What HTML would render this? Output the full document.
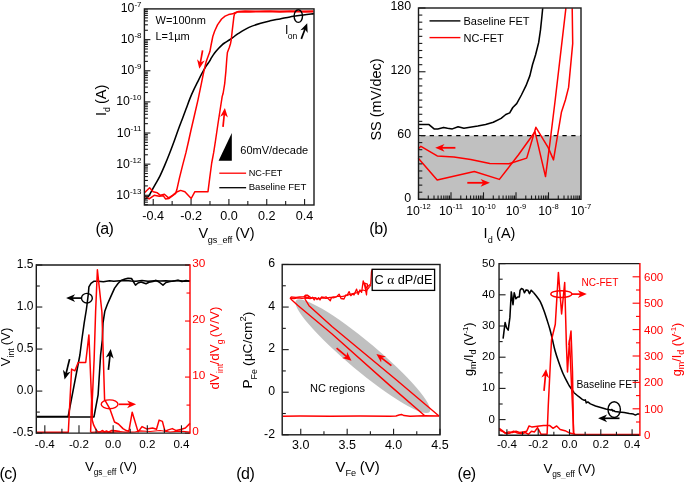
<!DOCTYPE html>
<html><head><meta charset="utf-8"><style>
html,body{margin:0;padding:0;background:#fff;overflow:hidden;width:685px;height:482px;}
svg{display:block;will-change:transform;}
text{font-family:"Liberation Sans",sans-serif;}
</style></head><body>
<svg width="685" height="482" viewBox="0 0 685 482">
<defs><clipPath id="clipa"><rect x="144.4" y="8.9" width="169.6" height="196.1"/></clipPath></defs>
<rect width="685" height="482" fill="#fff"/>
<text x="141.5" y="198.88" font-size="12.3" text-anchor="end" fill="#000" >10<tspan font-size="8" dy="-5.2">-13</tspan></text>
<text x="141.5" y="167.75" font-size="12.3" text-anchor="end" fill="#000" >10<tspan font-size="8" dy="-5.2">-12</tspan></text>
<text x="141.5" y="136.62" font-size="12.3" text-anchor="end" fill="#000" >10<tspan font-size="8" dy="-5.2">-11</tspan></text>
<text x="141.5" y="105.49" font-size="12.3" text-anchor="end" fill="#000" >10<tspan font-size="8" dy="-5.2">-10</tspan></text>
<text x="141.5" y="74.36" font-size="12.3" text-anchor="end" fill="#000" >10<tspan font-size="8" dy="-5.2">-9</tspan></text>
<text x="141.5" y="43.23" font-size="12.3" text-anchor="end" fill="#000" >10<tspan font-size="8" dy="-5.2">-8</tspan></text>
<text x="141.5" y="12.1" font-size="12.3" text-anchor="end" fill="#000" >10<tspan font-size="8" dy="-5.2">-7</tspan></text>
<text x="153.22" y="219.9" font-size="12.6" text-anchor="middle" fill="#000" >-0.4</text>
<text x="191.06" y="219.9" font-size="12.6" text-anchor="middle" fill="#000" >-0.2</text>
<text x="228.9" y="219.9" font-size="12.6" text-anchor="middle" fill="#000" >0.0</text>
<text x="266.74" y="219.9" font-size="12.6" text-anchor="middle" fill="#000" >0.2</text>
<text x="304.58" y="219.9" font-size="12.6" text-anchor="middle" fill="#000" >0.4</text>
<text x="95.4" y="233.6" font-size="16" text-anchor="start" fill="#000" letter-spacing="-0.5">(a)</text>
<text x="198.4" y="238.1" font-size="14.5" text-anchor="start" fill="#000" >V<tspan font-size="9.1" dy="4.5" dx="-0.3">gs<tspan fill="#aaa">_</tspan>eff</tspan><tspan dy="-4.5" dx="-1.2"> (V)</tspan></text>
<text transform="translate(106,116) rotate(-90)" font-size="14.5">I<tspan font-size="8.8" dy="4.2">d</tspan><tspan dy="-4.2" dx="-1"> (A)</tspan></text>
<text x="155.5" y="23.8" font-size="11" text-anchor="start" fill="#000" >W=100nm</text>
<text x="155.5" y="39.6" font-size="11" text-anchor="start" fill="#000" >L=1&#181;m</text>
<path d="M231.8,133.1 L231.8,160.8 L218.6,160.8 Z" fill="#000"/>
<text x="240.3" y="154.2" font-size="11" text-anchor="start" fill="#000" >60mV/decade</text>
<line x1="219.3" y1="173.2" x2="246.1" y2="173.2" stroke="#ff0000" stroke-width="1.3" />
<text x="248.7" y="175.7" font-size="9.2" text-anchor="start" fill="#000" >NC-FET</text>
<line x1="219.3" y1="187.7" x2="246.1" y2="187.7" stroke="#000" stroke-width="1.3" />
<text x="248.7" y="190.2" font-size="9.6" text-anchor="start" fill="#000" >Baseline FET</text>
<g clip-path="url(#clipa)">
<path d="M145.2,199.3 C145.78,198.75 147.8,197.07 148.7,196 C149.6,194.93 149.55,194.77 150.6,192.9 C151.65,191.03 153.45,187.6 155,184.8 C156.55,182 158.25,179.42 159.9,176.1 C161.55,172.78 163.23,168.83 164.9,164.9 C166.57,160.97 168.28,156.65 169.9,152.5 C171.52,148.35 173.17,143.92 174.6,140 C176.03,136.08 177.18,132.58 178.5,129 C179.82,125.42 181.22,121.9 182.5,118.5 C183.78,115.1 184.97,111.92 186.2,108.6 C187.43,105.28 188.65,101.72 189.9,98.6 C191.15,95.48 192.45,92.6 193.7,89.9 C194.95,87.2 196.05,85.1 197.4,82.4 C198.75,79.7 200.35,76.4 201.8,73.7 C203.25,71 204.8,68.3 206.1,66.2 C207.4,64.1 208.75,62.43 209.6,61.1 C210.45,59.77 210.58,59.23 211.2,58.2 C211.82,57.17 212.53,56.02 213.3,54.9 C214.07,53.78 214.9,52.62 215.8,51.5 C216.7,50.38 217.73,49.23 218.7,48.2 C219.67,47.17 220.63,46.17 221.6,45.3 C222.57,44.43 223.22,43.88 224.5,43 C225.78,42.12 227.88,40.93 229.3,40 C230.72,39.07 231.47,38.5 233,37.4 C234.53,36.3 235.83,35.07 238.5,33.4 C241.17,31.73 245.3,29.1 249,27.4 C252.7,25.7 257.18,24.3 260.7,23.2 C264.22,22.1 266.88,21.52 270.1,20.8 C273.32,20.08 276.68,19.55 280,18.9 C283.32,18.25 286.85,17.48 290,16.9 C293.15,16.32 294.9,15.95 298.9,15.4 C302.9,14.85 311.48,13.9 314,13.6" fill="none" stroke="#000" stroke-width="1.55" stroke-linejoin="round" />
<polyline points="313.5,11 300,11.3 290,10.9 280,11.2 270,10.9 260,11.3 245,11.1 238.5,11.4 235,12.6 232.7,13.8 228.6,14.6 225.1,16.1 221.6,19 217.5,24.9 214.6,31.3 212.8,36.5 211.1,45 209.9,51.6 207.4,58.2 206.1,62 203.6,72.5 201.1,84.9 198,99.8 194.4,115.5 190.9,130.5 188.6,141 186,152.4 182.4,166.1 179.3,178.6 176.8,189.8 176.2,191.7 175.7,193.3 169,198.4 165.5,198.9 163.4,195.8 159.3,196.3 154.2,195.3 149.1,198.9 144,195.3" fill="none" stroke="#ff0000" stroke-width="1.5" stroke-linejoin="round" />
<polyline points="144,193.3 149.6,187.7 153.2,191.8 157.3,192.8 160.4,195.3 164.4,194.3 168.5,197.9 172.6,195.3 176.2,192.3 180.6,190.4 184.9,191.7 191.2,198.5 194.9,191.7 208,191.7 209.8,177.3 211.7,163 213.7,152.4 215.6,140 217.8,125 220.1,110 222.2,96.4 223.1,93.5 224.7,83.6 225.9,71.1 226.8,58.7 227.4,52.5 229.3,47.5 230.5,43.7 231.2,40 232.1,31.9 233.9,16.7 234.5,13.8 237.4,11.8 250,11.9 265,11.6 280,12 295,11.6 305,12 313.5,11.7" fill="none" stroke="#ff0000" stroke-width="1.5" stroke-linejoin="round" />
</g>
<line x1="202.6" y1="50.3" x2="200.34" y2="62.89" stroke="#ff0000" stroke-width="1.7" />
<path d="M199.3,68.7 L197.05,59.15 L200.43,62.4 L204.73,60.53 Z" fill="#ff0000"/>
<line x1="223" y1="126.8" x2="224.3" y2="113.97" stroke="#ff0000" stroke-width="1.7" />
<path d="M224.9,108.1 L227.87,117.45 L224.25,114.47 L220.11,116.66 Z" fill="#ff0000"/>
<ellipse cx="298.3" cy="16.1" rx="4.2" ry="6.3" fill="none" stroke="#000" stroke-width="1.4"/>
<text x="284.9" y="34.2" font-size="12.3" text-anchor="start" fill="#000" >I<tspan font-size="8.6" dy="4.6" dx="-0.6">on</tspan></text>
<line x1="301.3" y1="38.9" x2="305.12" y2="28.72" stroke="#000" stroke-width="1.7" />
<path d="M307.2,23.2 L307.68,33 L304.95,29.19 L300.38,30.25 Z" fill="#000"/>
<rect x="418.5" y="135.7" width="162.5" height="63.6" fill="#c0c0c0"/>
<line x1="418.5" y1="135.7" x2="581" y2="135.7" stroke="#000" stroke-width="1.3" stroke-dasharray="4.3,4.55" stroke-dashoffset="6.55"/>
<text x="411.1" y="201.5" font-size="12.4" text-anchor="end" fill="#000" >0</text>
<text x="411.1" y="137.73" font-size="12.4" text-anchor="end" fill="#000" >60</text>
<text x="411.1" y="73.96" font-size="12.4" text-anchor="end" fill="#000" >120</text>
<text x="411.1" y="10.1" font-size="12.4" text-anchor="end" fill="#000" >180</text>
<text x="418.5" y="215.4" font-size="12.3" text-anchor="middle" fill="#000" >10<tspan font-size="7.6" dy="-6.2">-12</tspan></text>
<text x="451" y="215.4" font-size="12.3" text-anchor="middle" fill="#000" >10<tspan font-size="7.6" dy="-6.2">-11</tspan></text>
<text x="483.5" y="215.4" font-size="12.3" text-anchor="middle" fill="#000" >10<tspan font-size="7.6" dy="-6.2">-10</tspan></text>
<text x="516" y="215.4" font-size="12.3" text-anchor="middle" fill="#000" >10<tspan font-size="7.6" dy="-6.2">-9</tspan></text>
<text x="548.5" y="215.4" font-size="12.3" text-anchor="middle" fill="#000" >10<tspan font-size="7.6" dy="-6.2">-8</tspan></text>
<text x="581" y="215.4" font-size="12.3" text-anchor="middle" fill="#000" >10<tspan font-size="7.6" dy="-6.2">-7</tspan></text>
<text x="369.3" y="233.5" font-size="16" text-anchor="start" fill="#000" letter-spacing="-0.5">(b)</text>
<text x="483.6" y="238" font-size="14.5" text-anchor="start" fill="#000" >I<tspan font-size="9.1" dy="4.5">d</tspan><tspan dy="-4.5" dx="-0.6"> (A)</tspan></text>
<text transform="translate(381,140.6) rotate(-90)" font-size="14.5">SS (mV/dec)</text>
<line x1="429.5" y1="20.9" x2="460.4" y2="20.9" stroke="#000" stroke-width="1.4" />
<text x="463.5" y="25" font-size="11" text-anchor="start" fill="#000" >Baseline FET</text>
<line x1="429.5" y1="37.6" x2="460.4" y2="37.6" stroke="#ff0000" stroke-width="1.4" />
<text x="463.5" y="41.7" font-size="11" text-anchor="start" fill="#000" >NC-FET</text>
<polyline points="418.3,124.4 421.8,124.5 429,124.6 434.1,128.9 437.8,128.9 443.6,127.4 447.5,128.2 452.3,128.9 458.1,126.7 463.9,128.2 470,127.2 477.8,126.1 485.6,124.6 493.3,122.3 501.1,118.4 505.8,114.5 509.7,112.9 512.8,107.5 516.7,103.6 521.4,95 526,85.7 529.9,75.6 532.5,64.8 535.6,54.8 538.7,42.4 540.5,29.9 541.8,17.5 542.7,8.2" fill="none" stroke="#000" stroke-width="1.55" stroke-linejoin="round" />
<polyline points="418.3,148.7 420.9,146.3 437.2,155.9 453.9,157.1 470.7,159.5 489.8,163.6 509,163.8 526.7,158.1 535.9,127.3 548.2,147.6 553.5,159.9 561.4,112.3 565.4,100 568.6,87.4 572.7,43.6 572.2,8.2" fill="none" stroke="#ff0000" stroke-width="1.5" stroke-linejoin="round" />
<polyline points="418.3,158.3 437.2,179.9 474.3,171.5 499.4,179.4 518.5,154.7 535,131.7 545.5,176.6 550,142.3 555.2,100 565.9,8.2" fill="none" stroke="#ff0000" stroke-width="1.5" stroke-linejoin="round" />
<line x1="455.4" y1="147.8" x2="441.4" y2="147.8" stroke="#ff0000" stroke-width="1.8" />
<path d="M435.2,147.8 L444.5,143.9 L441.9,147.8 L444.5,151.7 Z" fill="#ff0000"/>
<line x1="467.3" y1="182.8" x2="483.7" y2="182.8" stroke="#ff0000" stroke-width="1.8" />
<path d="M489.9,182.8 L480.6,186.7 L483.2,182.8 L480.6,178.9 Z" fill="#ff0000"/>
<text x="33.4" y="435.8" font-size="12" text-anchor="end" fill="#000" >-0.5</text>
<text x="33.4" y="393.78" font-size="12" text-anchor="end" fill="#000" >0.0</text>
<text x="33.4" y="351.75" font-size="12" text-anchor="end" fill="#000" >0.5</text>
<text x="33.4" y="309.73" font-size="12" text-anchor="end" fill="#000" >1.0</text>
<text x="33.4" y="267.7" font-size="12" text-anchor="end" fill="#000" >1.5</text>
<text x="192.2" y="435.3" font-size="11.8" text-anchor="start" fill="#ff0000" >0</text>
<text x="192.2" y="379.27" font-size="11.8" text-anchor="start" fill="#ff0000" >10</text>
<text x="192.2" y="323.24" font-size="11.8" text-anchor="start" fill="#ff0000" >20</text>
<text x="192.2" y="267.21" font-size="11.8" text-anchor="start" fill="#ff0000" >30</text>
<text x="44.83" y="448" font-size="11.6" text-anchor="middle" fill="#000" >-0.4</text>
<text x="78.99" y="448" font-size="11.6" text-anchor="middle" fill="#000" >-0.2</text>
<text x="113.15" y="448" font-size="11.6" text-anchor="middle" fill="#000" >0.0</text>
<text x="147.31" y="448" font-size="11.6" text-anchor="middle" fill="#000" >0.2</text>
<text x="181.47" y="448" font-size="11.6" text-anchor="middle" fill="#000" >0.4</text>
<text x="-0.5" y="479" font-size="16" text-anchor="start" fill="#000" letter-spacing="-0.5">(c)</text>
<text x="85.1" y="471.1" font-size="13.3" text-anchor="start" fill="#000" >V<tspan font-size="8.4" dy="4" dx="-0.3">gs<tspan fill="#aaa">_</tspan>eff</tspan><tspan dy="-4" dx="-0.8"> (V)</tspan></text>
<text transform="translate(10,366.2) rotate(-90)" font-size="13.2">V<tspan font-size="8.6" dy="3.8">int</tspan><tspan dy="-3.8" dx="-0.6"> (V)</tspan></text>
<text transform="translate(219.4,389.6) rotate(-90)" font-size="13.4" fill="#ff0000">dV<tspan font-size="8.6" dy="3.8" dx="0.3">int</tspan><tspan dy="-3.8" dx="-0.6">/dV</tspan><tspan font-size="8.6" dy="3.8">g</tspan><tspan dy="-3.8" dx="-1.3"> (V/V)</tspan></text>
<polyline points="36.1,416.4 68.2,416.2 79.9,355 81.8,340 84.2,322.9 86.3,310 87.3,302.5 88.4,293.1 88.9,286.9 91,283.3 94.1,281.2 98.2,281.2 103.4,281.7 109.6,280.7 113.8,281.2 120,280.8 126,280.5 131,281 136,281.2 142,280.6 148,281.3 155,280.7 160,281 166,280.8 172,281.3 178,280.5 184,281.2 190,281" fill="none" stroke="#000" stroke-width="1.55" stroke-linejoin="round" />
<polyline points="36.1,417 94,416.9 98.1,394.8 100.6,355 102.3,340 103,322.9 104.8,311.3 107.4,304.2 111,296.1 114.6,288.1 118,283.5 121,280.5 125,279 128,278.3 131.5,278.5 133,281 135.5,285.1 138,283 141,282 146,283.8 149,282.2 153,281.5 156,280.3 159,282 163,285.1 166,282.5 170,281.5 175,280.8 178,280.3 182,281.6 186,280.6 190,281.2" fill="none" stroke="#000" stroke-width="1.55" stroke-linejoin="round" />
<polyline points="36.1,432.3 68.3,432.3 71.6,369.1 74.9,370.8 78.2,362.5 85.7,362.5 88.9,334.9 91.6,400 90.6,432.3" fill="none" stroke="#ff0000" stroke-width="1.5" stroke-linejoin="round" />
<polyline points="120,431.5 115.5,430.8 111.7,430.5 108.5,432.2 106.5,431 104.5,432 102.2,430.5 100,432 98,432.1 95.9,429.4 93.7,425.2 92.2,420 92.3,400 94.1,360 95.6,312 97.4,269.8 101.9,312 103.4,360 104.6,399.7 109.9,408.9 114.5,422 118.4,424 123,428.6 126.3,430.6 128.9,431.2 132.2,412.2 138.1,431.9 142,426.6 146.6,428.9 152.6,428 156.5,429.3 159.1,420.1 162.4,421.4 165,431.2 168.3,429.9 172.3,428.6 176.2,430.6 181.5,429.3 185.4,428 190,423.4" fill="none" stroke="#ff0000" stroke-width="1.5" stroke-linejoin="round" />
<polyline points="90.6,432.3 100,431.8 110,432.4 120,431.6 125,432.2 135,432 140,430.8 150,431.5 160,430.5 170,432 180,431.2 190,432" fill="none" stroke="#ff0000" stroke-width="1.2" stroke-linejoin="round" />
<ellipse cx="86.9" cy="298.2" rx="5.4" ry="4.8" fill="none" stroke="#000" stroke-width="1.4"/>
<line x1="81.6" y1="298.1" x2="72" y2="298.1" stroke="#000" stroke-width="1.7" />
<path d="M66.1,298.1 L75.1,294.2 L72.5,298.1 L75.1,302 Z" fill="#000"/>
<line x1="69.6" y1="359.1" x2="66" y2="373.77" stroke="#000" stroke-width="1.7" />
<path d="M64.6,379.5 L62.95,369.83 L66.12,373.28 L70.53,371.69 Z" fill="#000"/>
<line x1="108.4" y1="369.9" x2="110.05" y2="354.96" stroke="#000" stroke-width="1.7" />
<path d="M110.7,349.1 L113.59,358.47 L110,355.46 L105.83,357.62 Z" fill="#000"/>
<ellipse cx="109.6" cy="404.3" rx="8.4" ry="4.4" fill="none" stroke="#ff0000" stroke-width="1.4"/>
<line x1="118.8" y1="404.3" x2="130.2" y2="404.3" stroke="#ff0000" stroke-width="1.7" />
<path d="M136.1,404.3 L127.1,408.2 L129.7,404.3 L127.1,400.4 Z" fill="#ff0000"/>
<ellipse cx="362.8" cy="356.2" rx="87" ry="14.5" fill="#c0c0c0" transform="rotate(39.9 362.8 356.2)"/>
<text x="275" y="437.6" font-size="12.3" text-anchor="end" fill="#000" >-2</text>
<text x="275" y="395.02" font-size="12.3" text-anchor="end" fill="#000" >0</text>
<text x="275" y="352.44" font-size="12.3" text-anchor="end" fill="#000" >2</text>
<text x="275" y="309.86" font-size="12.3" text-anchor="end" fill="#000" >4</text>
<text x="275" y="267.28" font-size="12.3" text-anchor="end" fill="#000" >6</text>
<text x="300.76" y="449.4" font-size="12.5" text-anchor="middle" fill="#000" >3.0</text>
<text x="347.17" y="449.4" font-size="12.5" text-anchor="middle" fill="#000" >3.5</text>
<text x="393.58" y="449.4" font-size="12.5" text-anchor="middle" fill="#000" >4.0</text>
<text x="439.99" y="449.4" font-size="12.5" text-anchor="middle" fill="#000" >4.5</text>
<text x="236.2" y="479" font-size="16" text-anchor="start" fill="#000" letter-spacing="-0.5">(d)</text>
<text x="335.6" y="471.9" font-size="15" text-anchor="start" fill="#000" >V<tspan font-size="9.2" dy="4.4" dx="-0.2">Fe</tspan><tspan dy="-4.4" dx="-0.5"> (V)</tspan></text>
<text transform="translate(251.6,388.6) rotate(-90)" font-size="13.7">P<tspan font-size="8.8" dy="5">Fe</tspan><tspan dy="-5" dx="-0.5"> (&#181;C/cm</tspan><tspan font-size="9.5" dy="-5.5">2</tspan><tspan dy="5.5">)</tspan></text>
<text x="310" y="392.3" font-size="11" text-anchor="start" fill="#000" >NC regions</text>
<polyline points="283,416.2 300,416.1 330,416.3 360,416.1 390,416.2 396,416 399,415 401.5,414.4 404,415.6 410,416.2 424.5,415.8 439,416" fill="none" stroke="#ff0000" stroke-width="1.5" stroke-linejoin="round" />
<polyline points="439,416 396.5,380 332,326.5 309,305.7 305.3,299.5 304.8,297" fill="none" stroke="#ff0000" stroke-width="1.4" stroke-linejoin="round" />
<polyline points="424.5,415.5 390,385.6 331.8,333.8 297.6,305.2 292.4,300.6 290.3,298.3 291,297" fill="none" stroke="#ff0000" stroke-width="1.4" stroke-linejoin="round" />
<polyline points="291,298.3 294,298.6 298,297.9 302,298.4 306,297.8 310,298.6 314,297.6 318,298.8 322,297.8 326,298.4 330,297.4 334,297.8 338,296.2 342,296.6 346,295.6 350,294.4 354,293.4 357,292.6 360,291.2 363,290 366,291 369,287.5 371,285" fill="none" stroke="#ff0000" stroke-width="1.2" stroke-linejoin="round" />
<polyline points="290.8,297 296,297.4 299.6,297 304,296.7 305.4,295.2 306.9,295.1 308.4,296 309,297.5 306,298 305,296 308,295.5 311.3,298.1 312.5,297.2 314.2,300 315.5,297.8 317,299.5 318.6,297.8 320,300 321.5,297 324,297.5 326,296.8 328.8,299.2 330.3,300.7 331.5,297.5 333.3,297 336.6,296.6 339.1,294.1 341,298.5 344,299 345.8,294.9 347,295.5 349.1,291.6 350.8,295.7 352.5,294 354,295 356.6,289.1 358.2,294.5 359.9,289.9 361.6,292.4 363.2,280.8 364.9,286.6 366.5,294.9 367.4,284.1 364.5,283 366,288 370.7,284.1 371.5,271.6 372.2,269.5" fill="none" stroke="#ff0000" stroke-width="1.3" stroke-linejoin="round" />
<rect x="372.2" y="269.3" width="62.4" height="21.1" fill="#fff" stroke="#000" stroke-width="1.3"/>
<text x="374.4" y="283.9" font-size="12.75" text-anchor="start" fill="#000" >C <tspan font-family="Liberation Serif" font-size="13.3">&#945;</tspan> dP/dE</text>
<line x1="336.6" y1="348.2" x2="346.98" y2="356.91" stroke="#ff0000" stroke-width="1.7" />
<path d="M351.5,360.7 L342.1,357.9 L346.6,356.59 L347.11,351.93 Z" fill="#ff0000"/>
<line x1="391.4" y1="365.6" x2="381.07" y2="357.61" stroke="#ff0000" stroke-width="1.7" />
<path d="M376.4,354 L385.91,356.42 L381.46,357.92 L381.13,362.59 Z" fill="#ff0000"/>
<text x="494.8" y="422.6" font-size="11.5" text-anchor="end" fill="#000" >0</text>
<text x="494.8" y="391.4" font-size="11.5" text-anchor="end" fill="#000" >10</text>
<text x="494.8" y="360.2" font-size="11.5" text-anchor="end" fill="#000" >20</text>
<text x="494.8" y="329" font-size="11.5" text-anchor="end" fill="#000" >30</text>
<text x="494.8" y="297.8" font-size="11.5" text-anchor="end" fill="#000" >40</text>
<text x="494.8" y="266.6" font-size="11.5" text-anchor="end" fill="#000" >50</text>
<text x="644" y="439.2" font-size="11.5" text-anchor="start" fill="#ff0000" >0</text>
<text x="644" y="412.8" font-size="11.5" text-anchor="start" fill="#ff0000" >100</text>
<text x="644" y="386.4" font-size="11.5" text-anchor="start" fill="#ff0000" >200</text>
<text x="644" y="360" font-size="11.5" text-anchor="start" fill="#ff0000" >300</text>
<text x="644" y="333.6" font-size="11.5" text-anchor="start" fill="#ff0000" >400</text>
<text x="644" y="307.2" font-size="11.5" text-anchor="start" fill="#ff0000" >500</text>
<text x="644" y="280.8" font-size="11.5" text-anchor="start" fill="#ff0000" >600</text>
<text x="506.9" y="447.6" font-size="11.6" text-anchor="middle" fill="#000" >-0.4</text>
<text x="538.2" y="447.6" font-size="11.6" text-anchor="middle" fill="#000" >-0.2</text>
<text x="569.5" y="447.6" font-size="11.6" text-anchor="middle" fill="#000" >0.0</text>
<text x="600.8" y="447.6" font-size="11.6" text-anchor="middle" fill="#000" >0.2</text>
<text x="632.1" y="447.6" font-size="11.6" text-anchor="middle" fill="#000" >0.4</text>
<text x="457.6" y="478.6" font-size="16" text-anchor="start" fill="#000" letter-spacing="-0.5">(e)</text>
<text x="543.6" y="472.8" font-size="13.3" text-anchor="start" fill="#000" >V<tspan font-size="8.4" dy="4" dx="-0.3">gs<tspan fill="#aaa">_</tspan>eff</tspan><tspan dy="-4" dx="-0.8"> (V)</tspan></text>
<text transform="translate(472.6,375.9) rotate(-90)" font-size="12.6">g<tspan font-size="9" dy="3.5">m</tspan><tspan dy="-3.5">/I</tspan><tspan font-size="9" dy="3.5">d</tspan><tspan dy="-3.5"> (V</tspan><tspan font-size="8" dy="-5" dx="-0.3">-1</tspan><tspan dy="5" dx="-0.2">)</tspan></text>
<text transform="translate(680.5,376.3) rotate(-90)" font-size="12.6" fill="#ff0000">g<tspan font-size="9" dy="3.5">m</tspan><tspan dy="-3.5">/I</tspan><tspan font-size="9" dy="3.5">d</tspan><tspan dy="-3.5"> (V</tspan><tspan font-size="8" dy="-5" dx="-0.3">-1</tspan><tspan dy="5" dx="-0.2">)</tspan></text>
<text x="581.5" y="285.7" font-size="10.1" text-anchor="start" fill="#ff0000" >NC-FET</text>
<text x="576.5" y="388.2" font-size="10.3" text-anchor="start" fill="#000" >Baseline FET</text>
<polyline points="503.1,338.7 505.1,322.5 506.5,327.6 508.2,330.2 509.9,317.4 511.3,291.9 513,304.7 514.2,292.8 515.9,298.7 517.6,297 519.3,297 520.1,290.2 521.5,288.5 523.2,289.4 524.4,292.8 526.1,289.9 527.8,290.2 529.5,293.6 531.2,290.2 533.7,292.8" fill="none" stroke="#000" stroke-width="1.55" stroke-linejoin="round" />
<path d="M533.7,292.8 C534.27,293.5 535.97,295.45 537.1,297 C538.23,298.55 539.37,299.83 540.5,302.1 C541.63,304.37 542.77,307.48 543.9,310.6 C545.03,313.72 546.3,317.68 547.3,320.8 C548.3,323.92 549.08,326.35 549.9,329.3 C550.72,332.25 551.35,334.97 552.2,338.5 C553.05,342.03 553.95,346.67 555,350.5 C556.05,354.33 557.17,357.67 558.5,361.5 C559.83,365.33 561.42,369.83 563,373.5 C564.58,377.17 566.83,381.28 568,383.5 C569.17,385.72 568.98,385.27 570,386.8 C571.02,388.33 573.42,391.72 574.1,392.7" fill="none" stroke="#000" stroke-width="1.55" stroke-linejoin="round" />
<polyline points="574.1,392.7 578.2,396.2 582.3,399.3 584.3,400.3 585.3,399.8 586.3,402.9 587.8,401.9 590.4,403.9 595.5,406 600.7,407.5 605.8,409 610.9,410 611.9,409.5 612.9,411 613.9,410.5 614.9,411.4 619,412.1 624.2,412.6 629.3,413.6 633.4,414.1 635.4,415.1 637.4,414.1 639.6,414.1" fill="none" stroke="#000" stroke-width="1.5" stroke-linejoin="round" />
<polyline points="499.2,428.3 501.6,430.1 505.2,433.1 508.8,431.9 512.4,432.5 516,431.3 519.5,432.5 523.1,431.9 526.7,431.3 529.1,425.9 532.1,427.1 537.5,426.3 543.5,425.4 549.5,425.4 553.1,428.3 556.7,425.9 560.2,429.5 565,430.7 569.8,433.1 574.6,434.3 580,434.5 600,434.5 639.6,434.5" fill="none" stroke="#ff0000" stroke-width="1.5" stroke-linejoin="round" />
<polyline points="499.2,430.1 503,431.5 506.4,433.7 510,433 513.6,431.3 517.5,433 521.9,433.7 525.3,432.5 528.5,434.3 531.5,431.3 534.5,431.9 537.5,427.7 541.1,434.3 547.1,434.3 548.3,405 551.5,340 555.3,324.2 558.4,272.4 561.6,314 564.7,282.6 566.4,345 567.5,372 569.5,340 573.7,433.3 575,434.5" fill="none" stroke="#ff0000" stroke-width="1.5" stroke-linejoin="round" />
<polyline points="568.9,345 571,331 572.5,372 573.5,434" fill="none" stroke="#ff0000" stroke-width="1.5" stroke-linejoin="round" />
<ellipse cx="561.3" cy="294.1" rx="10.5" ry="3.4" fill="none" stroke="#ff0000" stroke-width="1.4"/>
<line x1="572" y1="294.1" x2="580.9" y2="294.1" stroke="#ff0000" stroke-width="1.7" />
<path d="M586.8,294.1 L577.8,298 L580.4,294.1 L577.8,290.2 Z" fill="#ff0000"/>
<line x1="544" y1="390.8" x2="545.53" y2="374.87" stroke="#ff0000" stroke-width="1.7" />
<path d="M546.1,369 L549.12,378.33 L545.49,375.37 L541.35,377.58 Z" fill="#ff0000"/>
<ellipse cx="614.2" cy="409.6" rx="6.2" ry="7.9" fill="none" stroke="#000" stroke-width="1.4"/>
<line x1="619.5" y1="418.3" x2="604" y2="418.3" stroke="#000" stroke-width="1.7" />
<path d="M598.1,418.3 L607.1,414.4 L604.5,418.3 L607.1,422.2 Z" fill="#000"/>
<line x1="144.4" y1="204.65" x2="147.9" y2="204.65" stroke="#1a1a1a" stroke-width="1.1"/>
<line x1="144.4" y1="202.19" x2="147.9" y2="202.19" stroke="#1a1a1a" stroke-width="1.1"/>
<line x1="144.4" y1="200.1" x2="147.9" y2="200.1" stroke="#1a1a1a" stroke-width="1.1"/>
<line x1="144.4" y1="198.3" x2="147.9" y2="198.3" stroke="#1a1a1a" stroke-width="1.1"/>
<line x1="144.4" y1="196.7" x2="147.9" y2="196.7" stroke="#1a1a1a" stroke-width="1.1"/>
<line x1="144.4" y1="195.28" x2="150.4" y2="195.28" stroke="#1a1a1a" stroke-width="1.1"/>
<line x1="144.4" y1="185.91" x2="147.9" y2="185.91" stroke="#1a1a1a" stroke-width="1.1"/>
<line x1="144.4" y1="180.43" x2="147.9" y2="180.43" stroke="#1a1a1a" stroke-width="1.1"/>
<line x1="144.4" y1="176.54" x2="147.9" y2="176.54" stroke="#1a1a1a" stroke-width="1.1"/>
<line x1="144.4" y1="173.52" x2="147.9" y2="173.52" stroke="#1a1a1a" stroke-width="1.1"/>
<line x1="144.4" y1="171.06" x2="147.9" y2="171.06" stroke="#1a1a1a" stroke-width="1.1"/>
<line x1="144.4" y1="168.97" x2="147.9" y2="168.97" stroke="#1a1a1a" stroke-width="1.1"/>
<line x1="144.4" y1="167.17" x2="147.9" y2="167.17" stroke="#1a1a1a" stroke-width="1.1"/>
<line x1="144.4" y1="165.57" x2="147.9" y2="165.57" stroke="#1a1a1a" stroke-width="1.1"/>
<line x1="144.4" y1="164.15" x2="150.4" y2="164.15" stroke="#1a1a1a" stroke-width="1.1"/>
<line x1="144.4" y1="154.78" x2="147.9" y2="154.78" stroke="#1a1a1a" stroke-width="1.1"/>
<line x1="144.4" y1="149.3" x2="147.9" y2="149.3" stroke="#1a1a1a" stroke-width="1.1"/>
<line x1="144.4" y1="145.41" x2="147.9" y2="145.41" stroke="#1a1a1a" stroke-width="1.1"/>
<line x1="144.4" y1="142.39" x2="147.9" y2="142.39" stroke="#1a1a1a" stroke-width="1.1"/>
<line x1="144.4" y1="139.93" x2="147.9" y2="139.93" stroke="#1a1a1a" stroke-width="1.1"/>
<line x1="144.4" y1="137.84" x2="147.9" y2="137.84" stroke="#1a1a1a" stroke-width="1.1"/>
<line x1="144.4" y1="136.04" x2="147.9" y2="136.04" stroke="#1a1a1a" stroke-width="1.1"/>
<line x1="144.4" y1="134.44" x2="147.9" y2="134.44" stroke="#1a1a1a" stroke-width="1.1"/>
<line x1="144.4" y1="133.02" x2="150.4" y2="133.02" stroke="#1a1a1a" stroke-width="1.1"/>
<line x1="144.4" y1="123.65" x2="147.9" y2="123.65" stroke="#1a1a1a" stroke-width="1.1"/>
<line x1="144.4" y1="118.17" x2="147.9" y2="118.17" stroke="#1a1a1a" stroke-width="1.1"/>
<line x1="144.4" y1="114.28" x2="147.9" y2="114.28" stroke="#1a1a1a" stroke-width="1.1"/>
<line x1="144.4" y1="111.26" x2="147.9" y2="111.26" stroke="#1a1a1a" stroke-width="1.1"/>
<line x1="144.4" y1="108.8" x2="147.9" y2="108.8" stroke="#1a1a1a" stroke-width="1.1"/>
<line x1="144.4" y1="106.71" x2="147.9" y2="106.71" stroke="#1a1a1a" stroke-width="1.1"/>
<line x1="144.4" y1="104.91" x2="147.9" y2="104.91" stroke="#1a1a1a" stroke-width="1.1"/>
<line x1="144.4" y1="103.31" x2="147.9" y2="103.31" stroke="#1a1a1a" stroke-width="1.1"/>
<line x1="144.4" y1="101.89" x2="150.4" y2="101.89" stroke="#1a1a1a" stroke-width="1.1"/>
<line x1="144.4" y1="92.52" x2="147.9" y2="92.52" stroke="#1a1a1a" stroke-width="1.1"/>
<line x1="144.4" y1="87.04" x2="147.9" y2="87.04" stroke="#1a1a1a" stroke-width="1.1"/>
<line x1="144.4" y1="83.15" x2="147.9" y2="83.15" stroke="#1a1a1a" stroke-width="1.1"/>
<line x1="144.4" y1="80.13" x2="147.9" y2="80.13" stroke="#1a1a1a" stroke-width="1.1"/>
<line x1="144.4" y1="77.67" x2="147.9" y2="77.67" stroke="#1a1a1a" stroke-width="1.1"/>
<line x1="144.4" y1="75.58" x2="147.9" y2="75.58" stroke="#1a1a1a" stroke-width="1.1"/>
<line x1="144.4" y1="73.78" x2="147.9" y2="73.78" stroke="#1a1a1a" stroke-width="1.1"/>
<line x1="144.4" y1="72.18" x2="147.9" y2="72.18" stroke="#1a1a1a" stroke-width="1.1"/>
<line x1="144.4" y1="70.76" x2="150.4" y2="70.76" stroke="#1a1a1a" stroke-width="1.1"/>
<line x1="144.4" y1="61.39" x2="147.9" y2="61.39" stroke="#1a1a1a" stroke-width="1.1"/>
<line x1="144.4" y1="55.91" x2="147.9" y2="55.91" stroke="#1a1a1a" stroke-width="1.1"/>
<line x1="144.4" y1="52.02" x2="147.9" y2="52.02" stroke="#1a1a1a" stroke-width="1.1"/>
<line x1="144.4" y1="49" x2="147.9" y2="49" stroke="#1a1a1a" stroke-width="1.1"/>
<line x1="144.4" y1="46.54" x2="147.9" y2="46.54" stroke="#1a1a1a" stroke-width="1.1"/>
<line x1="144.4" y1="44.45" x2="147.9" y2="44.45" stroke="#1a1a1a" stroke-width="1.1"/>
<line x1="144.4" y1="42.65" x2="147.9" y2="42.65" stroke="#1a1a1a" stroke-width="1.1"/>
<line x1="144.4" y1="41.05" x2="147.9" y2="41.05" stroke="#1a1a1a" stroke-width="1.1"/>
<line x1="144.4" y1="39.63" x2="150.4" y2="39.63" stroke="#1a1a1a" stroke-width="1.1"/>
<line x1="144.4" y1="30.26" x2="147.9" y2="30.26" stroke="#1a1a1a" stroke-width="1.1"/>
<line x1="144.4" y1="24.78" x2="147.9" y2="24.78" stroke="#1a1a1a" stroke-width="1.1"/>
<line x1="144.4" y1="20.89" x2="147.9" y2="20.89" stroke="#1a1a1a" stroke-width="1.1"/>
<line x1="144.4" y1="17.87" x2="147.9" y2="17.87" stroke="#1a1a1a" stroke-width="1.1"/>
<line x1="144.4" y1="15.41" x2="147.9" y2="15.41" stroke="#1a1a1a" stroke-width="1.1"/>
<line x1="144.4" y1="13.32" x2="147.9" y2="13.32" stroke="#1a1a1a" stroke-width="1.1"/>
<line x1="144.4" y1="11.52" x2="147.9" y2="11.52" stroke="#1a1a1a" stroke-width="1.1"/>
<line x1="144.4" y1="9.92" x2="147.9" y2="9.92" stroke="#1a1a1a" stroke-width="1.1"/>
<line x1="153.22" y1="205" x2="153.22" y2="199" stroke="#1a1a1a" stroke-width="1.1"/>
<line x1="172.14" y1="205" x2="172.14" y2="201" stroke="#1a1a1a" stroke-width="1.1"/>
<line x1="191.06" y1="205" x2="191.06" y2="199" stroke="#1a1a1a" stroke-width="1.1"/>
<line x1="209.98" y1="205" x2="209.98" y2="201" stroke="#1a1a1a" stroke-width="1.1"/>
<line x1="228.9" y1="205" x2="228.9" y2="199" stroke="#1a1a1a" stroke-width="1.1"/>
<line x1="247.82" y1="205" x2="247.82" y2="201" stroke="#1a1a1a" stroke-width="1.1"/>
<line x1="266.74" y1="205" x2="266.74" y2="199" stroke="#1a1a1a" stroke-width="1.1"/>
<line x1="285.66" y1="205" x2="285.66" y2="201" stroke="#1a1a1a" stroke-width="1.1"/>
<line x1="304.58" y1="205" x2="304.58" y2="199" stroke="#1a1a1a" stroke-width="1.1"/>
<line x1="418.5" y1="199.3" x2="425.5" y2="199.3" stroke="#1a1a1a" stroke-width="1.1"/>
<line x1="418.5" y1="192.21" x2="422.3" y2="192.21" stroke="#1a1a1a" stroke-width="1.1"/>
<line x1="418.5" y1="185.13" x2="422.3" y2="185.13" stroke="#1a1a1a" stroke-width="1.1"/>
<line x1="418.5" y1="178.04" x2="422.3" y2="178.04" stroke="#1a1a1a" stroke-width="1.1"/>
<line x1="418.5" y1="170.96" x2="422.3" y2="170.96" stroke="#1a1a1a" stroke-width="1.1"/>
<line x1="418.5" y1="163.87" x2="422.3" y2="163.87" stroke="#1a1a1a" stroke-width="1.1"/>
<line x1="418.5" y1="156.79" x2="422.3" y2="156.79" stroke="#1a1a1a" stroke-width="1.1"/>
<line x1="418.5" y1="149.7" x2="422.3" y2="149.7" stroke="#1a1a1a" stroke-width="1.1"/>
<line x1="418.5" y1="142.62" x2="422.3" y2="142.62" stroke="#1a1a1a" stroke-width="1.1"/>
<line x1="418.5" y1="135.53" x2="425.5" y2="135.53" stroke="#1a1a1a" stroke-width="1.1"/>
<line x1="418.5" y1="128.45" x2="422.3" y2="128.45" stroke="#1a1a1a" stroke-width="1.1"/>
<line x1="418.5" y1="121.36" x2="422.3" y2="121.36" stroke="#1a1a1a" stroke-width="1.1"/>
<line x1="418.5" y1="114.28" x2="422.3" y2="114.28" stroke="#1a1a1a" stroke-width="1.1"/>
<line x1="418.5" y1="107.19" x2="422.3" y2="107.19" stroke="#1a1a1a" stroke-width="1.1"/>
<line x1="418.5" y1="100.11" x2="422.3" y2="100.11" stroke="#1a1a1a" stroke-width="1.1"/>
<line x1="418.5" y1="93.02" x2="422.3" y2="93.02" stroke="#1a1a1a" stroke-width="1.1"/>
<line x1="418.5" y1="85.93" x2="422.3" y2="85.93" stroke="#1a1a1a" stroke-width="1.1"/>
<line x1="418.5" y1="78.85" x2="422.3" y2="78.85" stroke="#1a1a1a" stroke-width="1.1"/>
<line x1="418.5" y1="71.76" x2="425.5" y2="71.76" stroke="#1a1a1a" stroke-width="1.1"/>
<line x1="418.5" y1="64.68" x2="422.3" y2="64.68" stroke="#1a1a1a" stroke-width="1.1"/>
<line x1="418.5" y1="57.59" x2="422.3" y2="57.59" stroke="#1a1a1a" stroke-width="1.1"/>
<line x1="418.5" y1="50.51" x2="422.3" y2="50.51" stroke="#1a1a1a" stroke-width="1.1"/>
<line x1="418.5" y1="43.42" x2="422.3" y2="43.42" stroke="#1a1a1a" stroke-width="1.1"/>
<line x1="418.5" y1="36.34" x2="422.3" y2="36.34" stroke="#1a1a1a" stroke-width="1.1"/>
<line x1="418.5" y1="29.25" x2="422.3" y2="29.25" stroke="#1a1a1a" stroke-width="1.1"/>
<line x1="418.5" y1="22.17" x2="422.3" y2="22.17" stroke="#1a1a1a" stroke-width="1.1"/>
<line x1="418.5" y1="15.08" x2="422.3" y2="15.08" stroke="#1a1a1a" stroke-width="1.1"/>
<line x1="418.5" y1="8" x2="425.5" y2="8" stroke="#1a1a1a" stroke-width="1.1"/>
<line x1="418.5" y1="199.3" x2="418.5" y2="192.3" stroke="#1a1a1a" stroke-width="1.1"/>
<line x1="428.28" y1="199.3" x2="428.28" y2="195.5" stroke="#1a1a1a" stroke-width="1.1"/>
<line x1="434.01" y1="199.3" x2="434.01" y2="195.5" stroke="#1a1a1a" stroke-width="1.1"/>
<line x1="438.07" y1="199.3" x2="438.07" y2="195.5" stroke="#1a1a1a" stroke-width="1.1"/>
<line x1="441.22" y1="199.3" x2="441.22" y2="195.5" stroke="#1a1a1a" stroke-width="1.1"/>
<line x1="443.79" y1="199.3" x2="443.79" y2="195.5" stroke="#1a1a1a" stroke-width="1.1"/>
<line x1="445.97" y1="199.3" x2="445.97" y2="195.5" stroke="#1a1a1a" stroke-width="1.1"/>
<line x1="447.85" y1="199.3" x2="447.85" y2="195.5" stroke="#1a1a1a" stroke-width="1.1"/>
<line x1="449.51" y1="199.3" x2="449.51" y2="195.5" stroke="#1a1a1a" stroke-width="1.1"/>
<line x1="451" y1="199.3" x2="451" y2="192.3" stroke="#1a1a1a" stroke-width="1.1"/>
<line x1="460.78" y1="199.3" x2="460.78" y2="195.5" stroke="#1a1a1a" stroke-width="1.1"/>
<line x1="466.51" y1="199.3" x2="466.51" y2="195.5" stroke="#1a1a1a" stroke-width="1.1"/>
<line x1="470.57" y1="199.3" x2="470.57" y2="195.5" stroke="#1a1a1a" stroke-width="1.1"/>
<line x1="473.72" y1="199.3" x2="473.72" y2="195.5" stroke="#1a1a1a" stroke-width="1.1"/>
<line x1="476.29" y1="199.3" x2="476.29" y2="195.5" stroke="#1a1a1a" stroke-width="1.1"/>
<line x1="478.47" y1="199.3" x2="478.47" y2="195.5" stroke="#1a1a1a" stroke-width="1.1"/>
<line x1="480.35" y1="199.3" x2="480.35" y2="195.5" stroke="#1a1a1a" stroke-width="1.1"/>
<line x1="482.01" y1="199.3" x2="482.01" y2="195.5" stroke="#1a1a1a" stroke-width="1.1"/>
<line x1="483.5" y1="199.3" x2="483.5" y2="192.3" stroke="#1a1a1a" stroke-width="1.1"/>
<line x1="493.28" y1="199.3" x2="493.28" y2="195.5" stroke="#1a1a1a" stroke-width="1.1"/>
<line x1="499.01" y1="199.3" x2="499.01" y2="195.5" stroke="#1a1a1a" stroke-width="1.1"/>
<line x1="503.07" y1="199.3" x2="503.07" y2="195.5" stroke="#1a1a1a" stroke-width="1.1"/>
<line x1="506.22" y1="199.3" x2="506.22" y2="195.5" stroke="#1a1a1a" stroke-width="1.1"/>
<line x1="508.79" y1="199.3" x2="508.79" y2="195.5" stroke="#1a1a1a" stroke-width="1.1"/>
<line x1="510.97" y1="199.3" x2="510.97" y2="195.5" stroke="#1a1a1a" stroke-width="1.1"/>
<line x1="512.85" y1="199.3" x2="512.85" y2="195.5" stroke="#1a1a1a" stroke-width="1.1"/>
<line x1="514.51" y1="199.3" x2="514.51" y2="195.5" stroke="#1a1a1a" stroke-width="1.1"/>
<line x1="516" y1="199.3" x2="516" y2="192.3" stroke="#1a1a1a" stroke-width="1.1"/>
<line x1="525.78" y1="199.3" x2="525.78" y2="195.5" stroke="#1a1a1a" stroke-width="1.1"/>
<line x1="531.51" y1="199.3" x2="531.51" y2="195.5" stroke="#1a1a1a" stroke-width="1.1"/>
<line x1="535.57" y1="199.3" x2="535.57" y2="195.5" stroke="#1a1a1a" stroke-width="1.1"/>
<line x1="538.72" y1="199.3" x2="538.72" y2="195.5" stroke="#1a1a1a" stroke-width="1.1"/>
<line x1="541.29" y1="199.3" x2="541.29" y2="195.5" stroke="#1a1a1a" stroke-width="1.1"/>
<line x1="543.47" y1="199.3" x2="543.47" y2="195.5" stroke="#1a1a1a" stroke-width="1.1"/>
<line x1="545.35" y1="199.3" x2="545.35" y2="195.5" stroke="#1a1a1a" stroke-width="1.1"/>
<line x1="547.01" y1="199.3" x2="547.01" y2="195.5" stroke="#1a1a1a" stroke-width="1.1"/>
<line x1="548.5" y1="199.3" x2="548.5" y2="192.3" stroke="#1a1a1a" stroke-width="1.1"/>
<line x1="558.28" y1="199.3" x2="558.28" y2="195.5" stroke="#1a1a1a" stroke-width="1.1"/>
<line x1="564.01" y1="199.3" x2="564.01" y2="195.5" stroke="#1a1a1a" stroke-width="1.1"/>
<line x1="568.07" y1="199.3" x2="568.07" y2="195.5" stroke="#1a1a1a" stroke-width="1.1"/>
<line x1="571.22" y1="199.3" x2="571.22" y2="195.5" stroke="#1a1a1a" stroke-width="1.1"/>
<line x1="573.79" y1="199.3" x2="573.79" y2="195.5" stroke="#1a1a1a" stroke-width="1.1"/>
<line x1="575.97" y1="199.3" x2="575.97" y2="195.5" stroke="#1a1a1a" stroke-width="1.1"/>
<line x1="577.85" y1="199.3" x2="577.85" y2="195.5" stroke="#1a1a1a" stroke-width="1.1"/>
<line x1="579.51" y1="199.3" x2="579.51" y2="195.5" stroke="#1a1a1a" stroke-width="1.1"/>
<line x1="36.3" y1="433.1" x2="42.3" y2="433.1" stroke="#1a1a1a" stroke-width="1.1"/>
<line x1="36.3" y1="412.09" x2="39.8" y2="412.09" stroke="#1a1a1a" stroke-width="1.1"/>
<line x1="36.3" y1="391.08" x2="42.3" y2="391.08" stroke="#1a1a1a" stroke-width="1.1"/>
<line x1="36.3" y1="370.06" x2="39.8" y2="370.06" stroke="#1a1a1a" stroke-width="1.1"/>
<line x1="36.3" y1="349.05" x2="42.3" y2="349.05" stroke="#1a1a1a" stroke-width="1.1"/>
<line x1="36.3" y1="328.04" x2="39.8" y2="328.04" stroke="#1a1a1a" stroke-width="1.1"/>
<line x1="36.3" y1="307.03" x2="42.3" y2="307.03" stroke="#1a1a1a" stroke-width="1.1"/>
<line x1="36.3" y1="286.01" x2="39.8" y2="286.01" stroke="#1a1a1a" stroke-width="1.1"/>
<line x1="36.3" y1="265" x2="42.3" y2="265" stroke="#1a1a1a" stroke-width="1.1"/>
<line x1="190" y1="433.1" x2="185" y2="433.1" stroke="#ff0000" stroke-width="1.1"/>
<line x1="190" y1="405.09" x2="186.5" y2="405.09" stroke="#ff0000" stroke-width="1.1"/>
<line x1="190" y1="377.07" x2="185" y2="377.07" stroke="#ff0000" stroke-width="1.1"/>
<line x1="190" y1="349.06" x2="186.5" y2="349.06" stroke="#ff0000" stroke-width="1.1"/>
<line x1="190" y1="321.04" x2="185" y2="321.04" stroke="#ff0000" stroke-width="1.1"/>
<line x1="190" y1="293.03" x2="186.5" y2="293.03" stroke="#ff0000" stroke-width="1.1"/>
<line x1="190" y1="265.01" x2="185" y2="265.01" stroke="#ff0000" stroke-width="1.1"/>
<line x1="44.83" y1="433.1" x2="44.83" y2="425.3" stroke="#1a1a1a" stroke-width="1.1"/>
<line x1="61.91" y1="433.1" x2="61.91" y2="428.8" stroke="#1a1a1a" stroke-width="1.1"/>
<line x1="78.99" y1="433.1" x2="78.99" y2="425.3" stroke="#1a1a1a" stroke-width="1.1"/>
<line x1="96.07" y1="433.1" x2="96.07" y2="428.8" stroke="#1a1a1a" stroke-width="1.1"/>
<line x1="113.15" y1="433.1" x2="113.15" y2="425.3" stroke="#1a1a1a" stroke-width="1.1"/>
<line x1="130.23" y1="433.1" x2="130.23" y2="428.8" stroke="#1a1a1a" stroke-width="1.1"/>
<line x1="147.31" y1="433.1" x2="147.31" y2="425.3" stroke="#1a1a1a" stroke-width="1.1"/>
<line x1="164.39" y1="433.1" x2="164.39" y2="428.8" stroke="#1a1a1a" stroke-width="1.1"/>
<line x1="181.47" y1="433.1" x2="181.47" y2="425.3" stroke="#1a1a1a" stroke-width="1.1"/>
<line x1="282.2" y1="434.8" x2="288.7" y2="434.8" stroke="#1a1a1a" stroke-width="1.1"/>
<line x1="282.2" y1="413.51" x2="285.8" y2="413.51" stroke="#1a1a1a" stroke-width="1.1"/>
<line x1="282.2" y1="392.22" x2="288.7" y2="392.22" stroke="#1a1a1a" stroke-width="1.1"/>
<line x1="282.2" y1="370.93" x2="285.8" y2="370.93" stroke="#1a1a1a" stroke-width="1.1"/>
<line x1="282.2" y1="349.64" x2="288.7" y2="349.64" stroke="#1a1a1a" stroke-width="1.1"/>
<line x1="282.2" y1="328.35" x2="285.8" y2="328.35" stroke="#1a1a1a" stroke-width="1.1"/>
<line x1="282.2" y1="307.06" x2="288.7" y2="307.06" stroke="#1a1a1a" stroke-width="1.1"/>
<line x1="282.2" y1="285.77" x2="285.8" y2="285.77" stroke="#1a1a1a" stroke-width="1.1"/>
<line x1="282.2" y1="264.48" x2="288.7" y2="264.48" stroke="#1a1a1a" stroke-width="1.1"/>
<line x1="300.76" y1="434.8" x2="300.76" y2="428.8" stroke="#1a1a1a" stroke-width="1.1"/>
<line x1="323.96" y1="434.8" x2="323.96" y2="431.3" stroke="#1a1a1a" stroke-width="1.1"/>
<line x1="347.17" y1="434.8" x2="347.17" y2="428.8" stroke="#1a1a1a" stroke-width="1.1"/>
<line x1="370.38" y1="434.8" x2="370.38" y2="431.3" stroke="#1a1a1a" stroke-width="1.1"/>
<line x1="393.58" y1="434.8" x2="393.58" y2="428.8" stroke="#1a1a1a" stroke-width="1.1"/>
<line x1="416.78" y1="434.8" x2="416.78" y2="431.3" stroke="#1a1a1a" stroke-width="1.1"/>
<line x1="439.99" y1="434.8" x2="439.99" y2="428.8" stroke="#1a1a1a" stroke-width="1.1"/>
<line x1="499.05" y1="435.2" x2="502.65" y2="435.2" stroke="#1a1a1a" stroke-width="1.1"/>
<line x1="499.05" y1="419.6" x2="505.55" y2="419.6" stroke="#1a1a1a" stroke-width="1.1"/>
<line x1="499.05" y1="404" x2="502.65" y2="404" stroke="#1a1a1a" stroke-width="1.1"/>
<line x1="499.05" y1="388.4" x2="505.55" y2="388.4" stroke="#1a1a1a" stroke-width="1.1"/>
<line x1="499.05" y1="372.8" x2="502.65" y2="372.8" stroke="#1a1a1a" stroke-width="1.1"/>
<line x1="499.05" y1="357.2" x2="505.55" y2="357.2" stroke="#1a1a1a" stroke-width="1.1"/>
<line x1="499.05" y1="341.6" x2="502.65" y2="341.6" stroke="#1a1a1a" stroke-width="1.1"/>
<line x1="499.05" y1="326" x2="505.55" y2="326" stroke="#1a1a1a" stroke-width="1.1"/>
<line x1="499.05" y1="310.4" x2="502.65" y2="310.4" stroke="#1a1a1a" stroke-width="1.1"/>
<line x1="499.05" y1="294.8" x2="505.55" y2="294.8" stroke="#1a1a1a" stroke-width="1.1"/>
<line x1="499.05" y1="279.2" x2="502.65" y2="279.2" stroke="#1a1a1a" stroke-width="1.1"/>
<line x1="499.05" y1="263.6" x2="505.55" y2="263.6" stroke="#1a1a1a" stroke-width="1.1"/>
<line x1="639.9" y1="435.2" x2="632.6" y2="435.2" stroke="#ff0000" stroke-width="1.1"/>
<line x1="639.9" y1="422" x2="636" y2="422" stroke="#ff0000" stroke-width="1.1"/>
<line x1="639.9" y1="408.8" x2="632.6" y2="408.8" stroke="#ff0000" stroke-width="1.1"/>
<line x1="639.9" y1="395.6" x2="636" y2="395.6" stroke="#ff0000" stroke-width="1.1"/>
<line x1="639.9" y1="382.4" x2="632.6" y2="382.4" stroke="#ff0000" stroke-width="1.1"/>
<line x1="639.9" y1="369.2" x2="636" y2="369.2" stroke="#ff0000" stroke-width="1.1"/>
<line x1="639.9" y1="356" x2="632.6" y2="356" stroke="#ff0000" stroke-width="1.1"/>
<line x1="639.9" y1="342.8" x2="636" y2="342.8" stroke="#ff0000" stroke-width="1.1"/>
<line x1="639.9" y1="329.6" x2="632.6" y2="329.6" stroke="#ff0000" stroke-width="1.1"/>
<line x1="639.9" y1="316.4" x2="636" y2="316.4" stroke="#ff0000" stroke-width="1.1"/>
<line x1="639.9" y1="303.2" x2="632.6" y2="303.2" stroke="#ff0000" stroke-width="1.1"/>
<line x1="639.9" y1="290" x2="636" y2="290" stroke="#ff0000" stroke-width="1.1"/>
<line x1="639.9" y1="276.8" x2="632.6" y2="276.8" stroke="#ff0000" stroke-width="1.1"/>
<line x1="506.9" y1="435.2" x2="506.9" y2="429.2" stroke="#1a1a1a" stroke-width="1.1"/>
<line x1="522.55" y1="435.2" x2="522.55" y2="431.7" stroke="#1a1a1a" stroke-width="1.1"/>
<line x1="538.2" y1="435.2" x2="538.2" y2="429.2" stroke="#1a1a1a" stroke-width="1.1"/>
<line x1="553.85" y1="435.2" x2="553.85" y2="431.7" stroke="#1a1a1a" stroke-width="1.1"/>
<line x1="569.5" y1="435.2" x2="569.5" y2="429.2" stroke="#1a1a1a" stroke-width="1.1"/>
<line x1="585.15" y1="435.2" x2="585.15" y2="431.7" stroke="#1a1a1a" stroke-width="1.1"/>
<line x1="600.8" y1="435.2" x2="600.8" y2="429.2" stroke="#1a1a1a" stroke-width="1.1"/>
<line x1="616.45" y1="435.2" x2="616.45" y2="431.7" stroke="#1a1a1a" stroke-width="1.1"/>
<line x1="632.1" y1="435.2" x2="632.1" y2="429.2" stroke="#1a1a1a" stroke-width="1.1"/>
<rect x="144.4" y="8.9" width="169.6" height="196.1" fill="none" stroke="#1a1a1a" stroke-width="1.4"/>
<rect x="418.5" y="8" width="162.5" height="191.3" fill="none" stroke="#1a1a1a" stroke-width="1.4"/>
<line x1="36.3" y1="265" x2="190" y2="265" stroke="#1a1a1a" stroke-width="1.4" />
<line x1="36.3" y1="264.3" x2="36.3" y2="433.8" stroke="#1a1a1a" stroke-width="1.4" />
<line x1="36.3" y1="433.1" x2="190" y2="433.1" stroke="#1a1a1a" stroke-width="1.4" />
<line x1="190" y1="264.3" x2="190" y2="433.8" stroke="#ff0000" stroke-width="1.4" />
<rect x="282.2" y="264.5" width="157.8" height="170.3" fill="none" stroke="#1a1a1a" stroke-width="1.4"/>
<line x1="499.05" y1="263.6" x2="639.9" y2="263.6" stroke="#1a1a1a" stroke-width="1.4" />
<line x1="499.05" y1="262.9" x2="499.05" y2="435.9" stroke="#1a1a1a" stroke-width="1.4" />
<line x1="499.05" y1="435.2" x2="639.9" y2="435.2" stroke="#1a1a1a" stroke-width="1.4" />
<line x1="639.9" y1="262.9" x2="639.9" y2="435.9" stroke="#ff0000" stroke-width="1.4" />
</svg>
</body></html>
